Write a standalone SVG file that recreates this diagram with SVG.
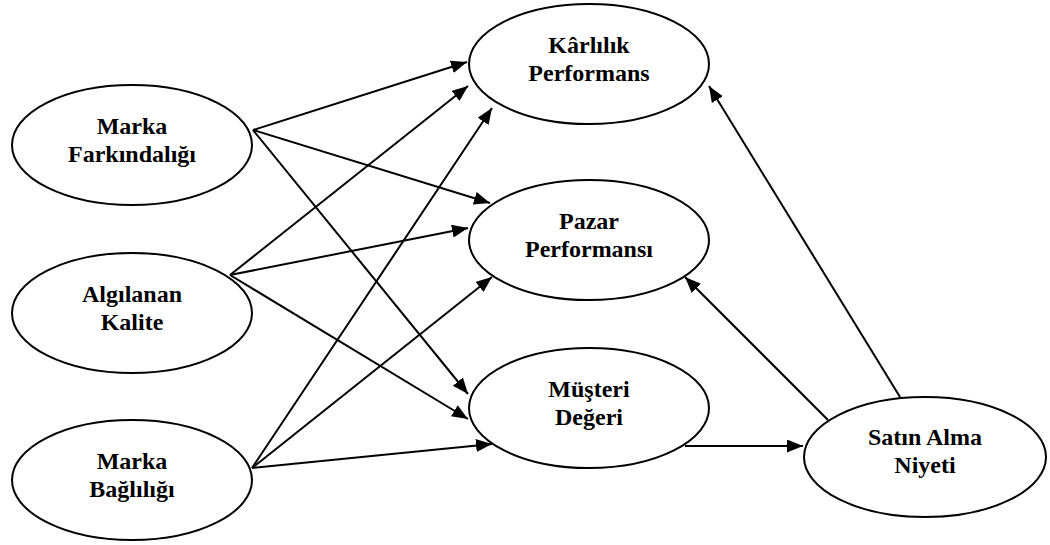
<svg xmlns="http://www.w3.org/2000/svg" width="1050" height="545" viewBox="0 0 1050 545">
  <style>
    .node ellipse { fill: #ffffff; stroke: #000000; stroke-width: 2; }
    .node text { font-family: "Liberation Serif", "Times New Roman", serif; font-weight: bold; font-size: 24px; fill: #000000; text-anchor: middle; }
    .edges line { stroke: #000000; stroke-width: 2; fill: none; marker-end: url(#arrow); }
  </style>
  <defs>
    <marker id="arrow" markerUnits="userSpaceOnUse" markerWidth="18" markerHeight="14" refX="16" refY="6.5" orient="auto">
      <path d="M0,0 L16,6.5 L0,13 z" fill="#000000"/>
    </marker>
  </defs>
  <rect width="1050" height="545" fill="#ffffff"/>

  <!-- connectors -->
  <g id="edges" class="edges">
    <!-- Marka Farkındalığı -->
    <line x1="253" y1="130" x2="467" y2="62"/>
    <line x1="253" y1="130" x2="490" y2="203"/>
    <line x1="253" y1="130" x2="468" y2="394"/>
    <!-- Algılanan Kalite -->
    <line x1="230" y1="275" x2="468" y2="86"/>
    <line x1="230" y1="275" x2="468" y2="228"/>
    <line x1="230" y1="275" x2="468" y2="419"/>
    <!-- Marka Bağlılığı -->
    <line x1="252" y1="468" x2="492" y2="108"/>
    <line x1="252" y1="468" x2="492" y2="277"/>
    <line x1="252" y1="468" x2="492" y2="444"/>
    <!-- Müşteri Değeri to Satın Alma Niyeti -->
    <line x1="685" y1="446" x2="803" y2="446"/>
    <!-- Satın Alma Niyeti -->
    <line x1="900" y1="397" x2="709" y2="86"/>
    <line x1="828" y1="420" x2="685" y2="277"/>
  </g>

  <g id="marka-farkindaligi" class="node">
    <ellipse cx="132" cy="145" rx="120" ry="60"/>
    <text x="132" y="134">Marka</text>
    <text x="132" y="162">Farkındalığı</text>
  </g>
  <g id="algilanan-kalite" class="node">
    <ellipse cx="132" cy="313" rx="120" ry="60"/>
    <text x="132" y="302">Algılanan</text>
    <text x="132" y="330">Kalite</text>
  </g>
  <g id="marka-bagliligi" class="node">
    <ellipse cx="132" cy="480" rx="120" ry="60"/>
    <text x="132" y="469">Marka</text>
    <text x="132" y="497">Bağlılığı</text>
  </g>
  <g id="karlilik-performans" class="node">
    <ellipse cx="589" cy="64" rx="120" ry="60"/>
    <text x="589" y="53">Kârlılık</text>
    <text x="589" y="81">Performans</text>
  </g>
  <g id="pazar-performansi" class="node">
    <ellipse cx="589" cy="240" rx="120" ry="60"/>
    <text x="589" y="229">Pazar</text>
    <text x="589" y="257">Performansı</text>
  </g>
  <g id="musteri-degeri" class="node">
    <ellipse cx="589" cy="408" rx="120" ry="60"/>
    <text x="589" y="397">Müşteri</text>
    <text x="589" y="425">Değeri</text>
  </g>
  <g id="satin-alma-niyeti" class="node">
    <ellipse cx="925" cy="457" rx="121" ry="60"/>
    <text x="925" y="445">Satın Alma</text>
    <text x="925" y="473">Niyeti</text>
  </g>
</svg>
